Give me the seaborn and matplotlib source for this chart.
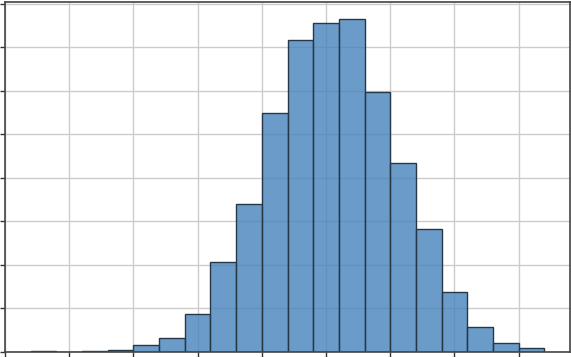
import numpy as np
import pandas as pd
import matplotlib
matplotlib.use("Agg")
import matplotlib.pyplot as plt
import seaborn as sns

# Histogram data
bin_edges = [0.4, 0.8, 1.2, 1.6, 2.0, 2.4, 2.8, 3.2, 3.6, 4.0, 4.4,
             4.8, 5.2, 5.6, 6.0, 6.4, 6.8, 7.2, 7.6, 8.0, 8.4]
counts = [1, 0, 1, 2, 7, 15, 43, 103, 170, 274, 359,
          378, 383, 299, 217, 141, 69, 28, 10, 4]
x_ticks = [0, 1, 2, 3, 4, 5, 6, 7, 8]
y_ticks = [0, 50, 100, 150, 200, 250, 300, 350, 400]

centers = [(a + b) / 2 for a, b in zip(bin_edges[:-1], bin_edges[1:])]
df = pd.DataFrame({"value": centers, "count": counts})

sns.set_style("ticks")
plt.rcParams["font.family"] = ["DejaVu Sans"]

fig = plt.figure(figsize=(5.71, 3.57), dpi=100)
ax = fig.add_axes([5 / 571, 5.5 / 357, 565 / 571, 349.5 / 357])

sns.histplot(data=df, x="value", weights="count", bins=bin_edges,
             color="#4a86bd", alpha=0.82, edgecolor="#263746",
             linewidth=1.0, ax=ax)

ax.set_xlim(0, 8.8)
ax.set_ylim(0, max(counts) * 1.05)
ax.set_xticks(x_ticks)
ax.set_yticks(y_ticks)
ax.grid(True, color="#cccccc", linewidth=1.0)
ax.set_axisbelow(True)
ax.tick_params(axis="both", direction="out", length=3.5, width=1.0,
               color="#333333", labelbottom=False, labelleft=False)
for s in ax.spines.values():
    s.set_visible(True)
    s.set_color("#444444")
    s.set_linewidth(1.2)
ax.set_xlabel("")
ax.set_ylabel("")

fig.savefig("out.png", dpi=100)
